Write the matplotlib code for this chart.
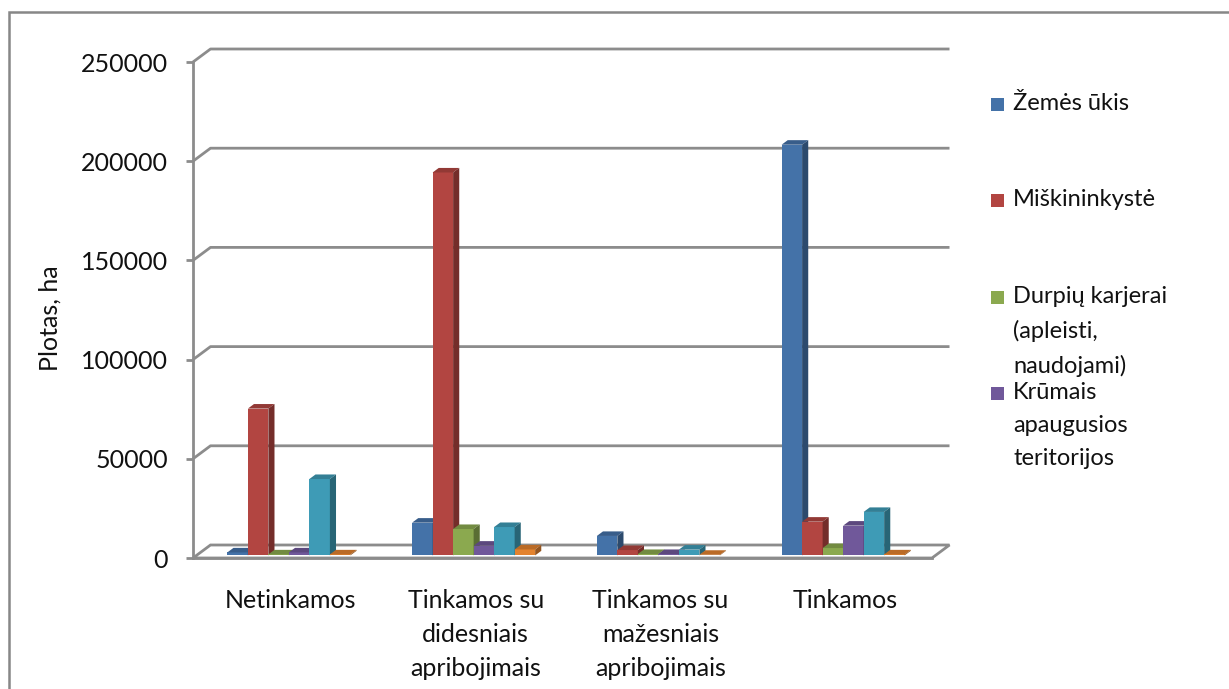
import matplotlib.pyplot as plt
import numpy as np
from matplotlib.patches import Polygon, Rectangle
from matplotlib.colors import to_rgb

plt.rcParams['font.family'] = ['Lato', 'DejaVu Sans']

categories = ['Netinkamos', 'Tinkamos su\ndidesniais\napribojimais',
              'Tinkamos su\nmažesniais\napribojimais', 'Tinkamos']

# plotas, ha
zemes_ukis = [1500, 16500, 9800, 207000]
miskininkyste = [74000, 193000, 2700, 17000]
durpiu_karjerai = [500, 13300, 700, 3700]
krumais = [1500, 4900, 700, 15000]
serija_5 = [38500, 14300, 2900, 21900]
serija_6 = [500, 3000, 300, 500]
series = [zemes_ukis, miskininkyste, durpiu_karjerai, krumais, serija_5, serija_6]

legend_labels = ['Žemės ūkis', 'Miškininkystė',
                 'Durpių karjerai\n(apleisti,\nnaudojami)',
                 'Krūmais\napaugusios\nteritorijos']
y_ticks = [0, 50000, 100000, 150000, 200000, 250000]

colors = ['#4472a8', '#b24541', '#8ba94f', '#70589a', '#3e9bb6', '#e3832f']
grid_color = '#8c8c8c'
text_color = '#111111'
fs = 18

W, H = 1229, 689
fig = plt.figure(figsize=(W / 100, H / 100), dpi=100)

# front plane of the 3d box, in pixels
x0, x1, y_bot, y_top = 193, 932, 558, 62
ax = fig.add_axes([x0 / W, (H - y_bot) / H, (x1 - x0) / W, (y_bot - y_top) / H])
ax.set_xlim(-0.5, 3.5)
ax.set_ylim(0, 250000)
ax.patch.set_visible(False)

# depth of the box converted to data units
ddx = 17.5 / (x1 - x0) * 4
ddy = 13 / (y_bot - y_top) * 250000

floor = Polygon([(-0.5, 0), (3.5, 0), (3.5 + ddx, ddy), (-0.5 + ddx, ddy)],
                closed=True, fc='white', ec=grid_color, lw=2, zorder=1, clip_on=False)
ax.add_patch(floor)
for v in y_ticks[1:]:
    ax.plot([-0.5, -0.5 + ddx, 3.5 + ddx], [v, v + ddy, v + ddy],
            color=grid_color, lw=2, zorder=1, clip_on=False, solid_capstyle='butt')

# bars: front face through ax.bar, top and side faces as polygons
bw = 0.111
f0, f1 = 0.2, 0.55
xs = np.arange(len(categories))
for j, vals in enumerate(series):
    c = np.array(to_rgb(colors[j]))
    left = xs + (j - 3) * bw + f0 * ddx
    base = f0 * ddy
    bars = ax.bar(left, vals, width=bw, bottom=base, align='edge',
                  color=colors[j], zorder=3 + j)
    dx, dy = (f1 - f0) * ddx, (f1 - f0) * ddy
    for b in bars:
        xl = b.get_x()
        xr = xl + b.get_width()
        top = b.get_y() + b.get_height()
        ax.add_patch(Polygon([(xl, top), (xr, top), (xr + dx, top + dy), (xl + dx, top + dy)],
                             closed=True, fc=c * 0.82, ec='none', zorder=3 + j))
        ax.add_patch(Polygon([(xr, base), (xr, top), (xr + dx, top + dy), (xr + dx, base + dy)],
                             closed=True, fc=c * 0.65, ec='none', zorder=3 + j))

for s in ['top', 'right']:
    ax.spines[s].set_visible(False)
for s in ['left', 'bottom']:
    ax.spines[s].set_color(grid_color)
    ax.spines[s].set_linewidth(2)
ax.set_yticks(y_ticks)
ax.set_yticklabels([str(v) for v in y_ticks])
ax.tick_params(axis='y', length=5, width=2, color=grid_color, pad=13,
               labelsize=fs, labelcolor=text_color)
ax.set_xticks(xs + 0.03)
ax.set_xticklabels(categories, linespacing=1.58)
ax.tick_params(axis='x', length=0, pad=22, labelsize=fs, labelcolor=text_color)

fig.text(50 / W, 1 - 318 / H, 'Plotas, ha', rotation=90, ha='center', va='center',
         fontsize=fs, color=text_color)

# legend
leg_y = [104, 200, 297, 393]
for k, lab in enumerate(legend_labels):
    fig.add_artist(Rectangle((991 / W, 1 - (leg_y[k] + 6.5) / H), 13 / W, 13 / H,
                             transform=fig.transFigure, fc=colors[k], ec='none'))
    fig.text(1013 / W, 1 - (leg_y[k] - 11) / H, lab, ha='left', va='top',
             fontsize=17, linespacing=1.72, color=text_color)

# chart border
fig.add_artist(Rectangle((9 / W, -0.1), 1.2, 1.1 - 12 / H, transform=fig.transFigure,
                         fill=False, ec='#878787', lw=1.8))

fig.savefig('out.png', dpi=100, facecolor='white')
